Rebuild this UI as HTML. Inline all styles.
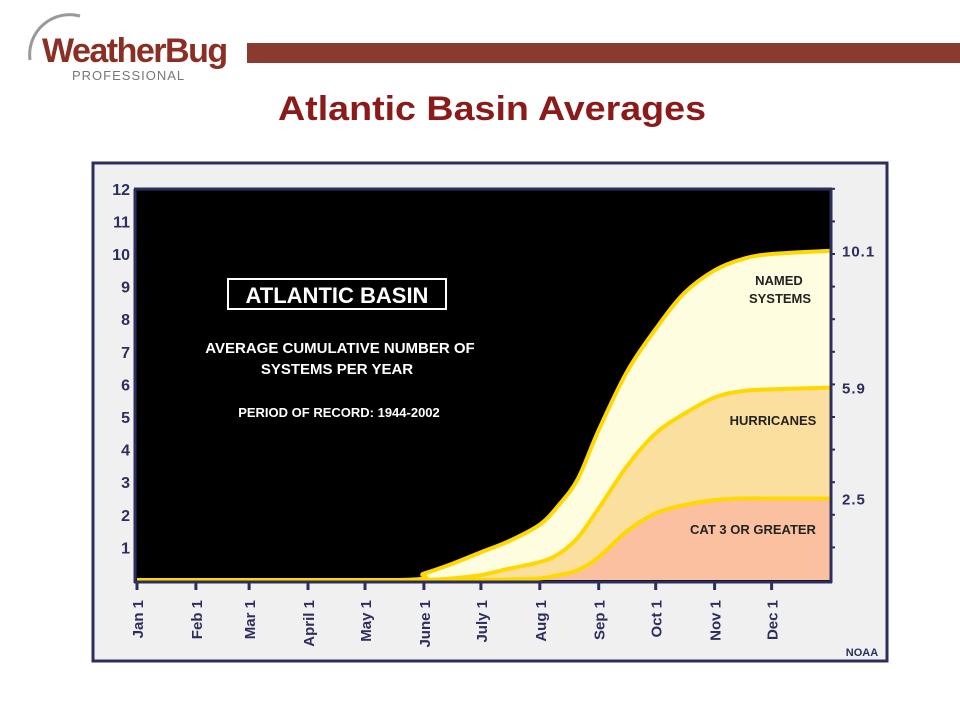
<!DOCTYPE html>
<html><head><meta charset="utf-8"><style>
html,body{margin:0;padding:0;background:#fff;width:960px;height:720px;overflow:hidden;font-family:"Liberation Sans",sans-serif}
</style></head><body>
<svg width="960" height="720" viewBox="0 0 960 720" xmlns="http://www.w3.org/2000/svg">
<g>
<path d="M30,60 A40,40 0 0 1 80,16" fill="none" stroke="#999" stroke-width="3"/>
<text x="42" y="62" font-size="34" font-weight="bold" fill="#8b2e24" letter-spacing="-1.5">WeatherBug</text>
<text x="72" y="80" font-size="13" fill="#777" letter-spacing="1">PROFESSIONAL</text>
</g>
<rect x="247" y="43" width="713" height="20" fill="#8b3a30"/>
<text x="492" y="120" text-anchor="middle" font-size="34" font-weight="bold" fill="#8b1a1a" textLength="428" lengthAdjust="spacingAndGlyphs">Atlantic Basin Averages</text>
<rect x="93" y="163" width="794" height="498" fill="#f0f0f0" stroke="#2e2e5e" stroke-width="3"/>
<rect x="136" y="189" width="694" height="392" fill="#000"/>
<g id="series"></g>
<line x1="135" y1="189" x2="135" y2="583" stroke="#2e2e5e" stroke-width="3"/>
<line x1="134" y1="582" x2="832" y2="582" stroke="#2e2e5e" stroke-width="3"/>
<line x1="831" y1="189" x2="831" y2="583" stroke="#2e2e5e" stroke-width="3"/>
<line x1="134" y1="189" x2="832" y2="189" stroke="#2e2e5e" stroke-width="3"/>
<g id="axes" font-weight="bold" fill="#2e2e5e"></g>
<g fill="#fff" font-weight="bold" text-anchor="middle">
<rect x="228" y="279" width="218" height="30" fill="none" stroke="#fff" stroke-width="2"/>
<text x="337" y="303" font-size="22">ATLANTIC BASIN</text>
<text x="340" y="353" font-size="15">AVERAGE CUMULATIVE NUMBER OF</text>
<text x="337" y="374" font-size="15">SYSTEMS PER YEAR</text>
<text x="339" y="417" font-size="13">PERIOD OF RECORD: 1944-2002</text>
</g>
<g fill="#222" font-weight="bold" font-size="13" text-anchor="middle">
<text x="779" y="285">NAMED</text>
<text x="780" y="303">SYSTEMS</text>
<text x="773" y="425">HURRICANES</text>
<text x="753" y="534">CAT 3 OR GREATER</text>
</g>
<text x="862" y="656" text-anchor="middle" font-size="11" font-weight="bold" fill="#2e2e5e">NOAA</text>
</svg>
<script>
const days=[0,138,151,166,181,196,212,222,232,243,258,273,288,304,319,334,365];
const named=[0,0,0.2,0.5,0.85,1.2,1.7,2.3,3.1,4.6,6.4,7.7,8.8,9.5,9.85,10.0,10.1];
const hurricanes=[0,0,0,0.05,0.15,0.35,0.55,0.8,1.3,2.2,3.5,4.5,5.1,5.6,5.8,5.85,5.9];
const cat3=[0,0,0,0,0,0.02,0.05,0.15,0.3,0.7,1.5,2.05,2.3,2.45,2.5,2.5,2.5];
const yTicks=[1,2,3,4,5,6,7,8,9,10,11,12];
const monthLabels=["Jan 1","Feb 1","Mar 1","April 1","May 1","June 1","July 1","Aug 1","Sep 1","Oct 1","Nov 1","Dec 1"];
const monthDays=[0,31,59,90,120,151,181,212,243,273,304,334];
const endLabels=["10.1","5.9","2.5"];
const NS="http://www.w3.org/2000/svg";
const x=d=>137+d*1.9;
const y=v=>580-32.6*v;
function curve(vals){
 const p=days.map((d,i)=>[x(d),y(vals[i])]);
 let s=`M${p[0][0]},${p[0][1]}`;
 for(let i=0;i<p.length-1;i++){
  const p0=p[Math.max(0,i-1)],p1=p[i],p2=p[i+1],p3=p[Math.min(p.length-1,i+2)];
  const c1=[p1[0]+(p2[0]-p0[0])/6,p1[1]+(p2[1]-p0[1])/6];
  const c2=[p2[0]-(p3[0]-p1[0])/6,p2[1]-(p3[1]-p1[1])/6];
  s+=` C${c1[0]},${Math.min(y(0),c1[1])} ${c2[0]},${Math.min(y(0),c2[1])} ${p2[0]},${p2[1]}`;
 }
 return s;
}
const g=document.getElementById('series');
const ser=[[named,'#fffde0','named-systems'],[hurricanes,'#fbdf9f','hurricanes'],[cat3,'#fbc0a0','cat3-or-greater']];
ser.forEach(([v,c,n])=>{
 const a=document.createElementNS(NS,'path');
 a.setAttribute('d',curve(v)+` L${x(365)},${y(0)} L${x(0)},${y(0)} Z`);
 a.setAttribute('fill',c);
 
 
 g.appendChild(a);
});
ser.forEach(([v,c,n])=>{
 const l=document.createElementNS(NS,'path');
 l.setAttribute('d',curve(v));
 l.setAttribute('fill','none');l.setAttribute('stroke','#ffd800');l.setAttribute('stroke-width','4');
 
 
 g.appendChild(l);
});
const ax=document.getElementById('axes');
yTicks.forEach(t=>{
 const tx=document.createElementNS(NS,'text');
 tx.setAttribute('x',130);tx.setAttribute('y',y(t)+6);tx.setAttribute('text-anchor','end');tx.setAttribute('font-size','16');
 tx.textContent=t;
 
 
 ax.appendChild(tx);
 const tk=document.createElementNS(NS,'line');
 tk.setAttribute('x1',831);tk.setAttribute('x2',835);tk.setAttribute('y1',y(t));tk.setAttribute('y2',y(t));tk.setAttribute('stroke','#2e2e5e');tk.setAttribute('stroke-width','2');
 ax.appendChild(tk);
});
monthDays.forEach((d,i)=>{
 const tk=document.createElementNS(NS,'line');
 tk.setAttribute('x1',x(d));tk.setAttribute('x2',x(d));tk.setAttribute('y1',582);tk.setAttribute('y2',590);tk.setAttribute('stroke','#2e2e5e');tk.setAttribute('stroke-width','3');
 ax.appendChild(tk);
 const tx=document.createElementNS(NS,'text');
 tx.setAttribute('transform',`translate(${x(d)+6},600) rotate(-90)`);
 tx.setAttribute('text-anchor','end');tx.setAttribute('font-size','15');
 tx.textContent=monthLabels[i];
 
 
 ax.appendChild(tx);
});
[named,hurricanes,cat3].forEach((v,i)=>{
 const tx=document.createElementNS(NS,'text');
 tx.setAttribute('x',842);tx.setAttribute('y',y(v[v.length-1])+6);tx.setAttribute('font-size','15');tx.setAttribute('letter-spacing','1');
 tx.textContent=endLabels[i];
 
 
 ax.appendChild(tx);
});
</script>
</body></html>
